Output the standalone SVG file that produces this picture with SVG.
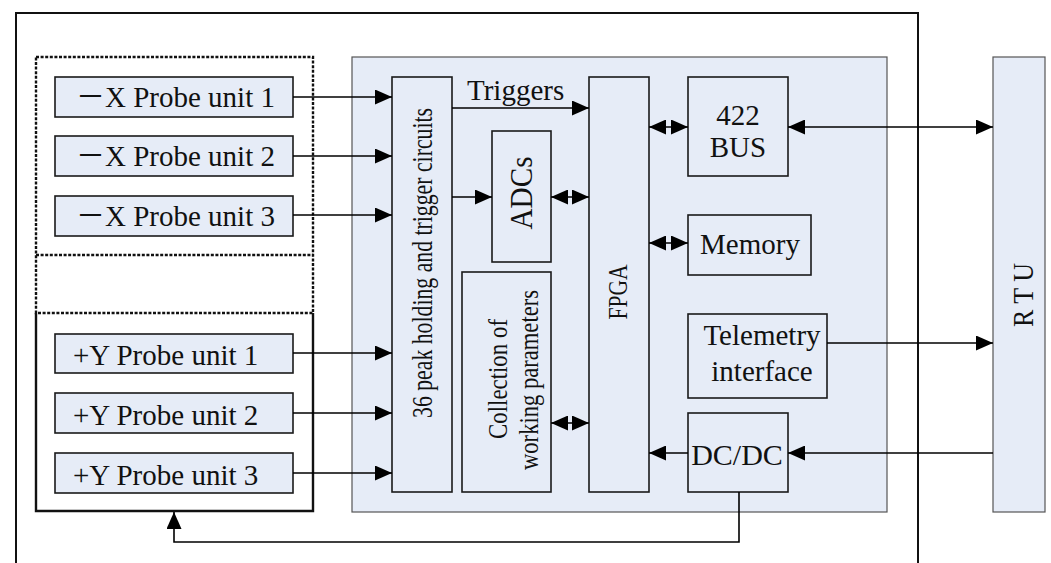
<svg xmlns="http://www.w3.org/2000/svg" width="1051" height="563" viewBox="0 0 1051 563">
  <defs>
    <style>
      .txt { font-family: "Liberation Serif", "Times New Roman", "Noto Sans CJK SC", serif; fill: #111; }
      .box { fill: #e6ecf7; stroke: #1a1a1a; stroke-width: 1.6; }
      .panel { fill: #e6ecf7; stroke: #555; stroke-width: 1.2; }
      .wire { fill: none; stroke: #000; stroke-width: 1.6; }
      .one { marker-end: url(#ah); }
      .two { marker-start: url(#ah); marker-end: url(#ah); }
    </style>
    <marker id="ah" viewBox="0 0 17 15" refX="17" refY="7.5" markerWidth="17" markerHeight="15" markerUnits="userSpaceOnUse" orient="auto-start-reverse">
      <path d="M0,0 L17,7.5 L0,15 Z" fill="#000"/>
    </marker>
  </defs>

  <rect width="1051" height="563" fill="#fff"/>

  <!-- instrument housing: open at the bottom -->
  <path d="M16,563 V13 H918 V563" fill="none" stroke="#111" stroke-width="2"/>

  <!-- probe groupings -->
  <g id="probe-frames">
    <rect x="36" y="57" width="277" height="256" fill="none" stroke="#111" stroke-width="2.4" stroke-dasharray="3 1.6"/>
    <line x1="36" y1="255" x2="313" y2="255" stroke="#111" stroke-width="2.4" stroke-dasharray="3 1.6"/>
    <path d="M36,313 V511 H313 V313" fill="none" stroke="#111" stroke-width="2.4"/>
  </g>

  <g id="probe-x1"><rect class="box" x="55" y="77" width="238" height="40"/><text class="txt" x="76" y="107" font-size="29">－X Probe unit 1</text></g>
  <g id="probe-x2"><rect class="box" x="55" y="136" width="238" height="40"/><text class="txt" x="76" y="166" font-size="29">－X Probe unit 2</text></g>
  <g id="probe-x3"><rect class="box" x="55" y="196" width="238" height="40"/><text class="txt" x="76" y="226" font-size="29">－X Probe unit 3</text></g>
  <g id="probe-y1"><rect class="box" x="55" y="334" width="238" height="39"/><text class="txt" x="73" y="365" font-size="29">+Y Probe unit 1</text></g>
  <g id="probe-y2"><rect class="box" x="55" y="393" width="238" height="40"/><text class="txt" x="73" y="425" font-size="29">+Y Probe unit 2</text></g>
  <g id="probe-y3"><rect class="box" x="55" y="453" width="238" height="40"/><text class="txt" x="73" y="485" font-size="29">+Y Probe unit 3</text></g>

  <!-- electronics board -->
  <rect id="board" class="panel" x="352" y="57" width="535" height="455"/>

  <g id="peak-hold">
    <rect class="box" x="392" y="77" width="60" height="415"/>
    <text class="txt" transform="translate(432,263) rotate(-90)" text-anchor="middle" font-size="29" textLength="310" lengthAdjust="spacingAndGlyphs">36 peak holding and trigger circuits</text>
  </g>

  <g id="adcs">
    <rect class="box" x="492" y="131" width="59" height="131"/>
    <text class="txt" transform="translate(532,193) rotate(-90)" text-anchor="middle" font-size="31" textLength="73" lengthAdjust="spacingAndGlyphs">ADCs</text>
  </g>

  <g id="collection">
    <rect class="box" x="462" y="272" width="89" height="220"/>
    <text class="txt" transform="translate(507,379) rotate(-90)" text-anchor="middle" font-size="28" textLength="120" lengthAdjust="spacingAndGlyphs">Collection of</text>
    <text class="txt" transform="translate(538,380) rotate(-90)" text-anchor="middle" font-size="28" textLength="180" lengthAdjust="spacingAndGlyphs">working parameters</text>
  </g>

  <g id="fpga">
    <rect class="box" x="589" y="77" width="60" height="415"/>
    <text class="txt" transform="translate(627,292) rotate(-90)" text-anchor="middle" font-size="27" textLength="55" lengthAdjust="spacingAndGlyphs">FPGA</text>
  </g>

  <g id="bus422">
    <rect class="box" x="688" y="77" width="100" height="99"/>
    <text class="txt" x="738" y="125" font-size="29" text-anchor="middle">422</text>
    <text class="txt" x="738" y="157" font-size="29" text-anchor="middle">BUS</text>
  </g>

  <g id="memory">
    <rect class="box" x="688" y="215" width="123" height="60"/>
    <text class="txt" x="750" y="254" font-size="29" text-anchor="middle">Memory</text>
  </g>

  <g id="telemetry">
    <rect class="box" x="688" y="314" width="139" height="84"/>
    <text class="txt" x="762" y="345" font-size="29" text-anchor="middle">Telemetry</text>
    <text class="txt" x="762" y="381" font-size="29" text-anchor="middle">interface</text>
  </g>

  <g id="dcdc">
    <rect class="box" x="688" y="413" width="100" height="79"/>
    <text class="txt" x="737" y="465" font-size="30" text-anchor="middle">DC/DC</text>
  </g>

  <g id="rtu">
    <rect class="panel" x="993" y="57" width="52" height="455"/>
    <text class="txt" transform="translate(1033,295) rotate(-90)" text-anchor="middle" font-size="30" textLength="64" lengthAdjust="spacingAndGlyphs">R T U</text>
  </g>

  <text class="txt" x="467" y="100" font-size="29">Triggers</text>

  <!-- signal and power connections -->
  <g id="connectors">
    <line class="wire one" x1="293" y1="97" x2="392" y2="97"/>
    <line class="wire one" x1="293" y1="156" x2="392" y2="156"/>
    <line class="wire one" x1="293" y1="215" x2="392" y2="215"/>
    <line class="wire one" x1="293" y1="353" x2="392" y2="353"/>
    <line class="wire one" x1="293" y1="413" x2="392" y2="413"/>
    <line class="wire one" x1="293" y1="473" x2="392" y2="473"/>
    <line class="wire one" x1="452" y1="108" x2="589" y2="108"/>
    <line class="wire one" x1="452" y1="197" x2="492" y2="197"/>
    <line class="wire two" x1="551" y1="197" x2="589" y2="197"/>
    <line class="wire two" x1="551" y1="423" x2="589" y2="423"/>
    <line class="wire two" x1="649" y1="127" x2="688" y2="127"/>
    <line class="wire two" x1="649" y1="243" x2="688" y2="243"/>
    <line class="wire one" x1="688" y1="453" x2="649" y2="453"/>
    <line class="wire two" x1="788" y1="127" x2="993" y2="127"/>
    <line class="wire one" x1="827" y1="343" x2="993" y2="343"/>
    <line class="wire one" x1="993" y1="453" x2="788" y2="453"/>
    <path class="wire one" d="M739,492 V542 H174 V512"/>
  </g>
</svg>
